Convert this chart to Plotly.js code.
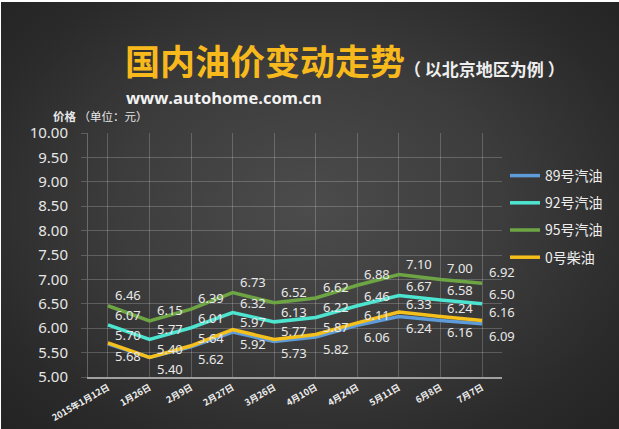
<!DOCTYPE html>
<html>
<head>
<meta charset="utf-8">
<script src="https://cdn.plot.ly/plotly-3.0.1.min.js"></script>
<style>
  html, body { margin: 0; padding: 0; background: #ffffff; }
  #bg {
    position: absolute; left: 1px; top: 2px; width: 618px; height: 427px;
    background: radial-gradient(ellipse 70% 75% at 50% 48%, #4c4c4c 0%, #3c3c3c 45%, #2a2a2a 80%, #232323 100%);
  }
  #chart { position: absolute; left: 0; top: 0; width: 619px; height: 429px; }
</style>
</head>
<body>
<div id="bg"></div>
<div id="chart"></div>
<script>
// dates on the x axis
const dates = ['2015年1月12日', '1月26日', '2月9日', '2月27日', '3月26日',
               '4月10日', '4月24日', '5月11日', '6月8日', '7月7日'];

// price per litre, yuan
const gas89 = [5.68, 5.40, 5.62, 5.92, 5.73, 5.82, 6.06, 6.24, 6.16, 6.09];
const gas92 = [6.07, 5.77, 6.01, 6.32, 6.13, 6.22, 6.46, 6.67, 6.58, 6.50];
const gas95 = [6.46, 6.15, 6.39, 6.73, 6.52, 6.62, 6.88, 7.10, 7.00, 6.92];
const diesel0 = [5.70, 5.40, 5.64, 5.97, 5.77, 5.87, 6.11, 6.33, 6.24, 6.16];

const seriesNames = ['89号汽油', '92号汽油', '95号汽油', '0号柴油'];
const yTicks = [5, 5.5, 6, 6.5, 7, 7.5, 8, 8.5, 9, 9.5, 10];

const W = 619, H = 429;
const margin = { l: 88, r: 116, t: 133, b: 52 };
// pixel -> paper helpers for the free text
const px = x => (x - margin.l) / (W - margin.l - margin.r);
const py = y => (H - margin.b - y) / (H - margin.t - margin.b);

const labelFont = { family: 'Noto Sans, sans-serif', size: 13, color: '#e8e8e8' };

function lineTrace(name, y, color) {
    return {
        type: 'scatter',
        mode: 'lines',
        name: name,
        legendgroup: name,
        x: dates,
        y: y,
        line: { color: color, width: 3.5 },
        hoverinfo: 'skip'
    };
}

// value labels, placed on the data coords and nudged like excel does
function valueLabels(y, dy) {
    return y.map((v, i) => ({
        x: dates[i], y: v, xref: 'x', yref: 'y',
        text: v.toFixed(2),
        showarrow: false,
        xanchor: 'left', yanchor: 'middle',
        xshift: 5, yshift: dy,
        font: labelFont
    }));
}

const data = [
    lineTrace(seriesNames[0], gas89, '#5f9bd8'),
    lineTrace(seriesNames[1], gas92, '#4de4d0'),
    lineTrace(seriesNames[2], gas95, '#6ea544'),
    lineTrace(seriesNames[3], diesel0, '#f5c01c')
];

const textNotes = [
    {
        xref: 'paper', yref: 'paper', x: px(123), y: py(60),
        xanchor: 'left', yanchor: 'middle', showarrow: false,
        text: '<b>国内油价变动走势</b>',
        font: { family: 'Noto Sans CJK SC, sans-serif', size: 35, color: '#f7b91c' }
    },
    {
        xref: 'paper', yref: 'paper', x: px(403), y: py(69),
        xanchor: 'left', yanchor: 'middle', showarrow: false,
        text: '<b>（ 以北京地区为例 ）</b>',
        font: { family: 'Noto Sans CJK SC, sans-serif', size: 17, color: '#eeeeee' }
    },
    {
        xref: 'paper', yref: 'paper', x: px(124), y: py(97),
        xanchor: 'left', yanchor: 'middle', showarrow: false,
        text: '<b>www.autohome.com.cn</b>',
        font: { family: 'Open Sans, sans-serif', size: 16.5, color: '#f2f2f2' }
    },
    {
        xref: 'paper', yref: 'paper', x: px(51), y: py(116),
        xanchor: 'left', yanchor: 'middle', showarrow: false,
        text: '<b>价格</b> （单位：元）',
        font: { family: 'Noto Sans CJK SC, sans-serif', size: 11.5, color: '#e6e6e6' }
    }
];

const layout = {
    width: W, height: H,
    margin: margin,
    paper_bgcolor: 'rgba(0,0,0,0)',
    plot_bgcolor: 'rgba(0,0,0,0)',
    font: { family: 'Noto Sans, Noto Sans CJK SC, sans-serif', color: '#e8e8e8' },
    showlegend: true,
    legend: {
        x: px(505), y: py(160), xanchor: 'left', yanchor: 'top',
        bgcolor: 'rgba(0,0,0,0)',
        font: { family: 'Noto Sans CJK SC, sans-serif', size: 14, color: '#eeeeee' },
        tracegroupgap: 6,
        traceorder: 'grouped'
    },
    xaxis: {
        type: 'category',
        range: [-0.48, 9.48],
        showgrid: true,
        gridcolor: 'rgba(255,255,255,0.2)',
        showline: true,
        linecolor: '#a0a0a0',
        linewidth: 2,
        ticks: '',
        tickangle: -30,
        tickfont: { family: 'Noto Sans CJK SC, sans-serif', size: 9, color: '#eeeeee', weight: 'bold' },
        zeroline: false,
        fixedrange: true
    },
    yaxis: {
        range: [5, 10],
        tickvals: yTicks,
        tickformat: '.2f',
        showgrid: true,
        gridcolor: 'rgba(255,255,255,0.2)',
        showline: true,
        linecolor: 'rgba(255,255,255,0.25)',
        ticks: 'outside',
        ticklen: 6,
        tickcolor: 'rgba(255,255,255,0.2)',
        ticklabelstandoff: 10,
        tickfont: { family: 'Noto Sans, sans-serif', size: 15, color: '#e6e6e6' },
        zeroline: false,
        fixedrange: true
    },
    annotations: [
        ...valueLabels(gas95, 11),
        ...valueLabels(gas92, 10),
        ...valueLabels(diesel0, 8),
        ...valueLabels(gas89, -12),
        ...textNotes
    ]
};

Plotly.newPlot('chart', data, layout, { displayModeBar: false, staticPlot: true });
</script>
</body>
</html>
